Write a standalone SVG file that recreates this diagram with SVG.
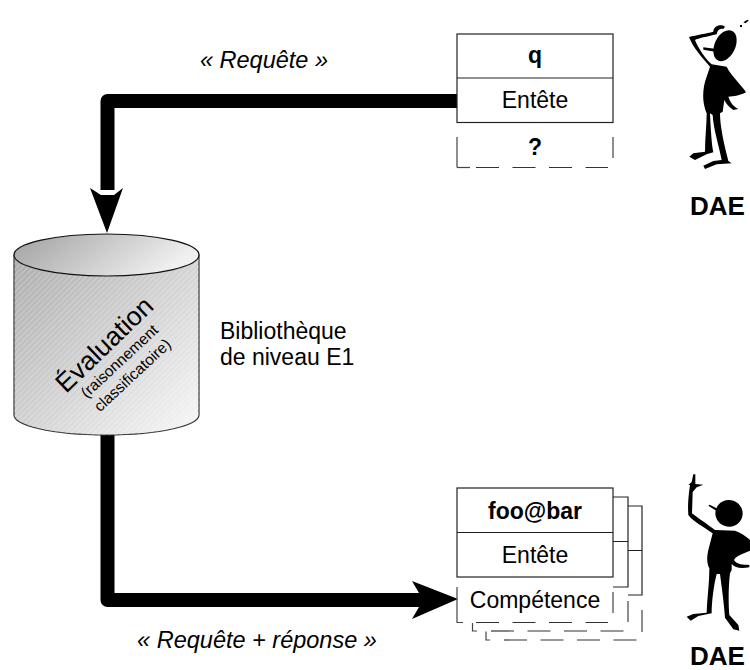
<svg xmlns="http://www.w3.org/2000/svg" width="750" height="670" viewBox="0 0 750 670">
<style>
text{font-family:"Liberation Sans",Arial,sans-serif;fill:#000}
.t{font-size:23px;text-anchor:middle}
.b{font-weight:bold}
.i{font-style:italic;font-size:23.500px;text-anchor:middle}
.lib{font-size:23px}
.dae{font-size:26px;font-weight:bold}
.box{fill:#fff;stroke:#222;stroke-width:1.200}
.l{fill:none;stroke:#222;stroke-width:1.200}
.d{fill:none;stroke:#333;stroke-width:1.200;stroke-dasharray:23 13.500}
.s{fill:none;stroke:#444;stroke-width:1.200}
.wire{fill:none;stroke:#000;stroke-width:14;stroke-linejoin:round}
</style>
<defs>
<linearGradient id="g" x1="0" y1="0" x2="1" y2="1"><stop offset="0" stop-color="#ababab"/><stop offset="1" stop-color="#f8f8f8"/></linearGradient>
<linearGradient id="g2" x1="0" y1="0" x2="1" y2="0.300"><stop offset="0" stop-color="#a0a0a0"/><stop offset="1" stop-color="#f0f0f0"/></linearGradient>
<pattern id="h" width="4" height="4" patternUnits="userSpaceOnUse" patternTransform="rotate(-45)"><rect width="4" height="1.500" fill="#fff" fill-opacity=".22"/></pattern>
</defs>
<rect width="750" height="670" fill="#fff"/>
<g id="connectors">
<path class="wire" d="M457 101H107.500V190"/>
<path d="M90 188L101 195H114L123 188L107 233Z" fill="#000"/>
<path class="wire" d="M107.500 430V600H425"/>
<path d="M412 581L419 593V607L412 619L458 599Z" fill="#000"/>
</g>
<g id="evaluation">
<path d="M14 255V415C14 425 50 435 106 435S199 425 199 415V255Z" fill="url(#g)" stroke="#333" stroke-width="1.200"/>
<path d="M14 255V415C14 425 50 435 106 435S199 425 199 415V255Z" fill="url(#h)"/>
<ellipse cx="106.500" cy="255" rx="92.500" ry="21" fill="url(#g2)" stroke="#111" stroke-width="1.200"/>
<text transform="translate(66 394) rotate(-44)" font-size="26.500">Évaluation</text>
<text transform="translate(123 365) rotate(-43)" font-size="15.500" text-anchor="middle">(raisonnement</text>
<text transform="translate(136 379) rotate(-43)" font-size="15.500" text-anchor="middle">classificatoire)</text>
</g>
<g id="library"><text class="lib" x="220" y="339">Bibliothèque</text><text class="lib" x="220" y="365">de niveau E1</text></g>
<g id="label-requete"><text class="i" x="264" y="68">« Requête »</text></g>
<g id="label-reponse"><text class="i" x="257" y="648">« Requête + réponse »</text></g>
<g id="box-q">
<rect class="box" x="457" y="34" width="156" height="88.500"/>
<line class="l" x1="457" y1="78" x2="613" y2="78"/>
<path class="s" d="M457 137V167.500M613 137V158"/>
<path class="d" d="M476 167.500H608"/>
<path class="s" d="M457 167.500H470"/>
<text class="t b" x="535" y="63">q</text><text class="t" x="535" y="108">Entête</text><text class="t b" x="535" y="155">?</text>
</g>
<g id="box-foo">
<path class="l" d="M613 497H628V587H613M613 541.500H628M628 506H642V595H628M628 550.500H642"/>
<path class="s" d="M613 592V613M628 601V622M642 610V632M457 587V622.500H463M472.500 623V631H477M486 631.500V640H490"/>
<path class="d" d="M476 622.500H608"/>
<path class="d" d="M491 631H624"/>
<path class="d" d="M504 640H637"/>
<rect class="box" x="457" y="488" width="156" height="89"/>
<line class="l" x1="457" y1="532.500" x2="613" y2="532.500"/>
<text class="t b" x="535" y="519">foo@bar</text><text class="t" x="535" y="563">Entête</text><text class="t" x="535" y="608">Compétence</text>
</g>
<g id="dae-top">
<g transform="translate(670 15) scale(.33333)" fill="#000">
<ellipse cx="165" cy="92" rx="31" ry="49" transform="rotate(25 165 92)"/>
<path d="M100 97L140 102 135 110 100 104Z"/>
<path d="M57 66C80 60 110 55 130 50C130 35 150 25 165 35L160 42C150 38 142 45 140 58C110 65 85 70 75 75C85 100 105 130 125 148L170 155C185 185 215 210 228 232C215 240 190 245 175 245C180 260 190 275 205 282L190 285C175 275 168 265 163 255L158 290L150 295C150 330 160 380 175 438L185 445L140 448L105 462L100 452L130 438L155 435C145 385 130 340 128 300L120 295C122 340 125 390 130 412L110 418L75 435L58 425L70 415L105 410C105 370 110 330 110 295C100 270 95 240 105 200L120 155C95 125 70 100 57 66Z"/>
<path d="M210 30h6v6h-6zM220 22L232 14 236 17 226 25Z"/>
</g>
<text class="dae" x="690" y="215">DAE</text>
</g>
<g id="dae-bottom">
<g transform="translate(670 470) scale(.33333)" fill="#000">
<ellipse cx="177" cy="130" rx="41" ry="40" transform="rotate(20 177 130)"/>
<path d="M115 107L119 104 150 120 146 127Z"/>
<path d="M70 13L76 13L76 42L100 44L80 52L68 66L66 130C85 145 115 165 135 180L195 182C215 190 232 200 245 215L245 240C225 250 200 255 192 270C200 285 220 283 238 285L238 292C215 295 195 295 185 282L185 300L180 310C175 350 175 400 178 435L205 465L208 482L190 478L165 443C162 400 155 350 150 312L140 312C130 350 125 400 125 430L85 438L62 452L50 440L70 432L110 428C112 380 118 340 118 295C110 280 110 260 115 240L128 190C100 170 70 155 55 135C52 100 58 60 60 45L55 45L65 36Z"/>
</g>
<text class="dae" x="690" y="665">DAE</text>
</g>
</svg>
